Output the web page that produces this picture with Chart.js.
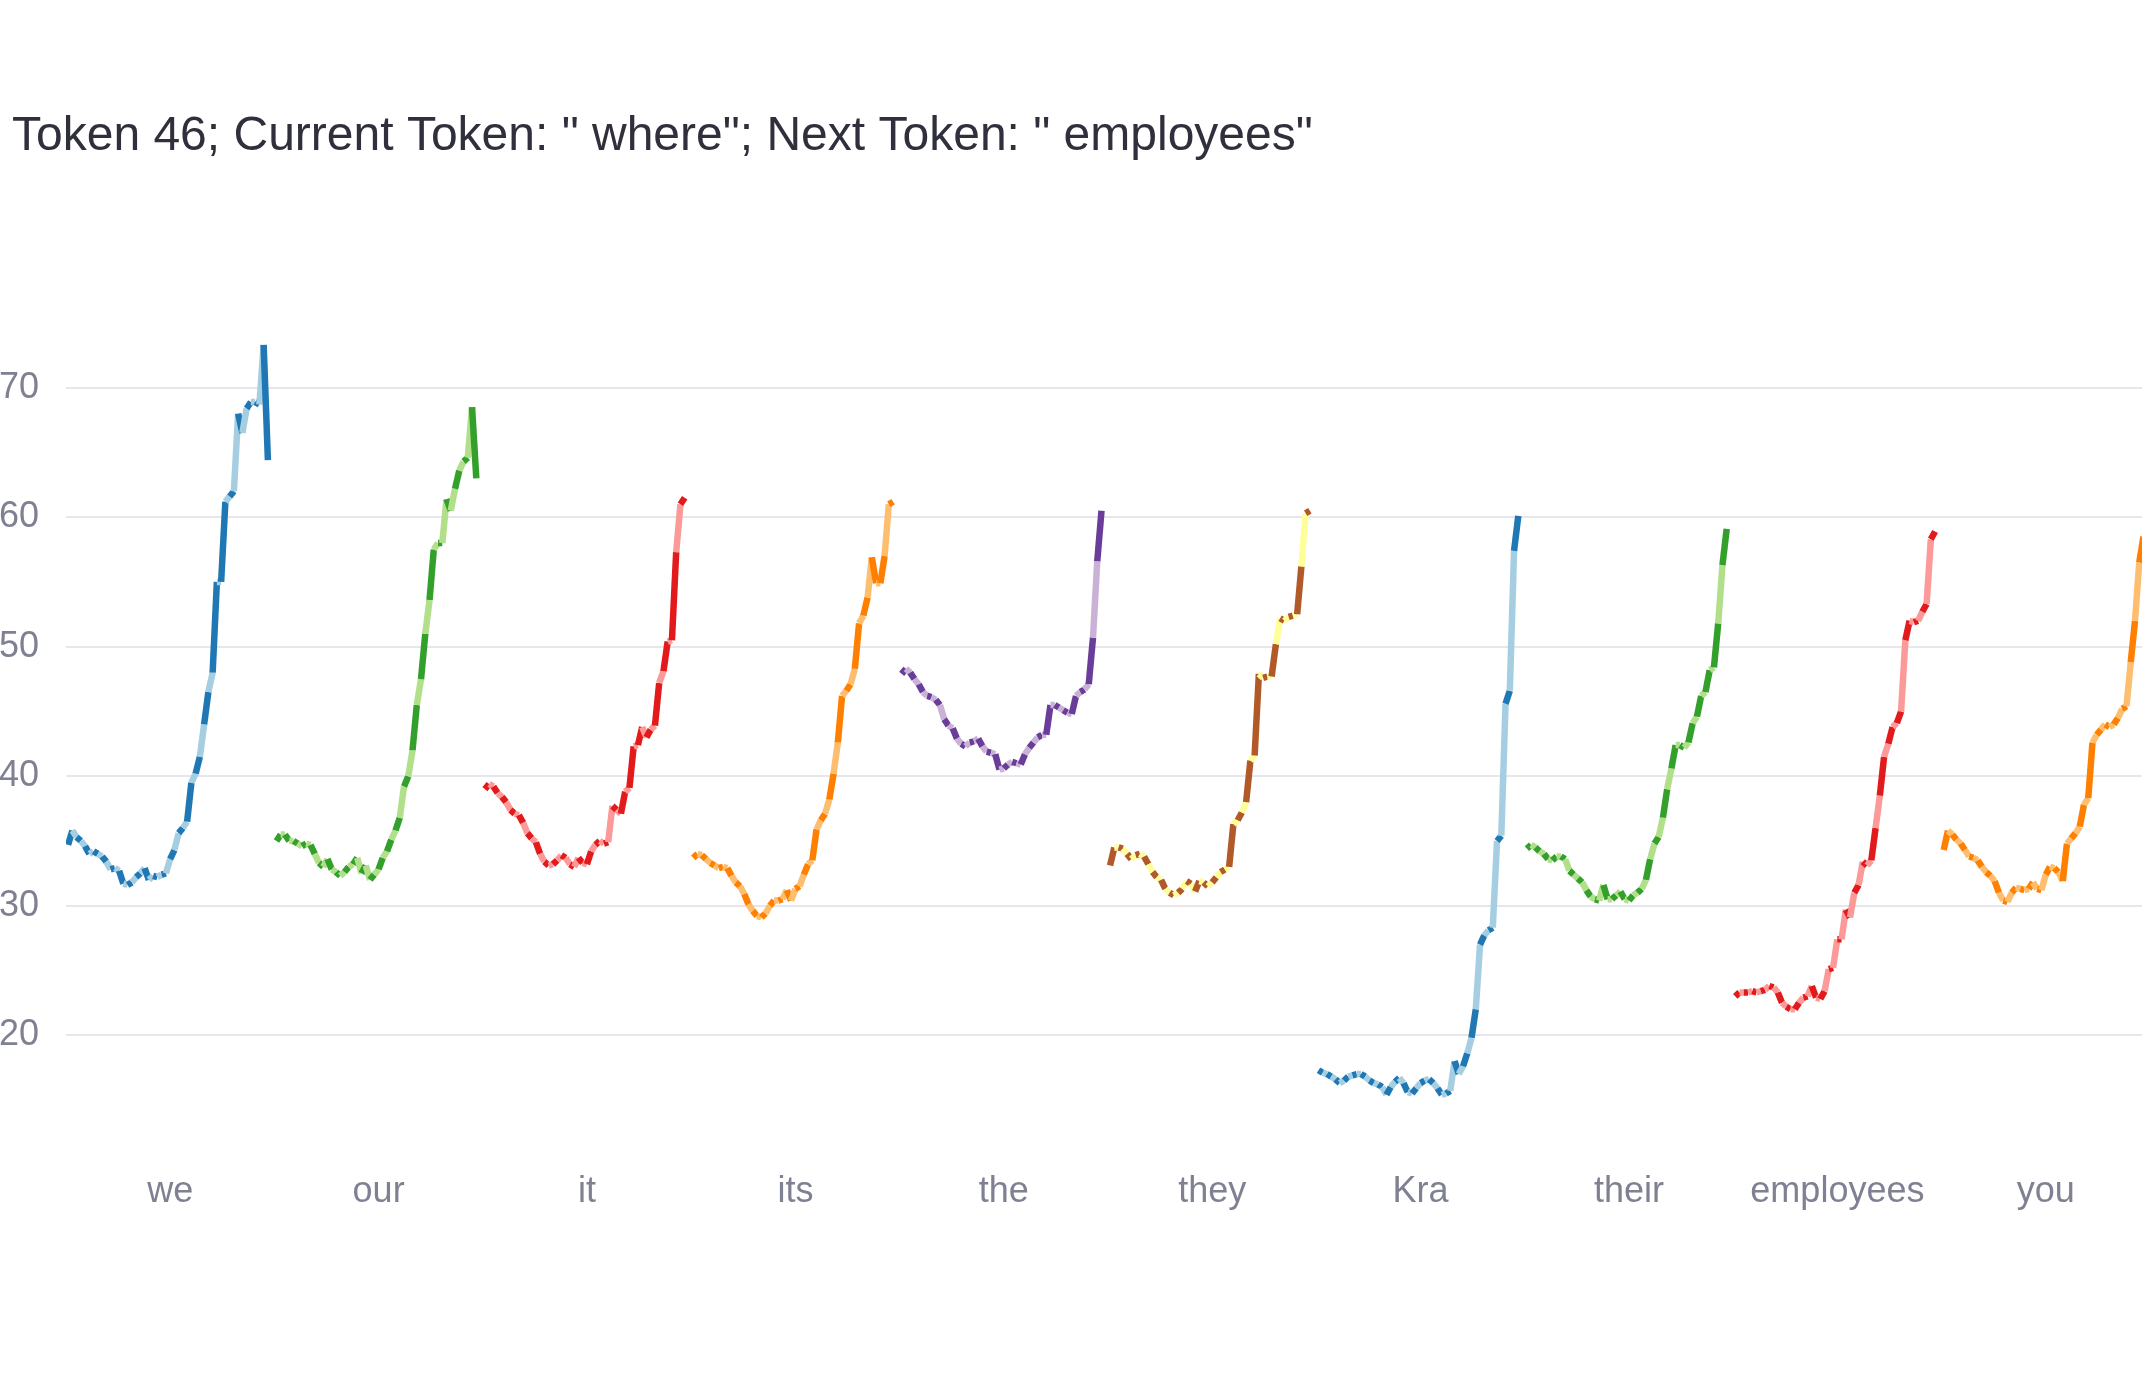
<!DOCTYPE html>
<html>
<head>
<meta charset="utf-8">
<script src="https://cdn.jsdelivr.net/npm/chart.js@4.4.1/dist/chart.umd.min.js"></script>
<style>
  html, body { margin: 0; padding: 0; background: #ffffff; }
  #wrap { width: 2142px; height: 1380px; position: relative; }
</style>
</head>
<body>
<div id="wrap"><canvas id="c"></canvas></div>
<script>
// ---------- data ----------
const titleText = 'Token 46; Current Token: " where"; Next Token: " employees"';
const categories = ['we', 'our', 'it', 'its', 'the', 'they', 'Kra', 'their', 'employees', 'you'];
const yTickValues = [20, 30, 40, 50, 60, 70];

const weValues = [34.7,35.8,35.3,35.0,34.6,34.0,34.2,34.0,33.8,33.4,32.8,32.9,32.7,31.7,31.6,31.8,32.2,32.5,32.9,32.0,32.3,32.2,32.4,32.5,33.6,34.3,35.6,36.0,36.5,39.5,40.2,41.5,44.0,46.5,48.0,55.0,55.0,61.2,61.6,62.0,68.0,66.5,68.4,68.9,68.9,68.7,73.3,64.4];
const ourValues = [35.0,35.5,35.5,35.0,35.0,34.8,34.6,34.8,34.7,34.0,33.3,33.0,33.6,32.8,32.6,32.3,32.6,33.0,33.2,33.7,32.5,33.1,32.0,32.4,32.8,33.7,34.2,35.1,35.8,36.8,39.2,40.0,42.0,45.5,47.5,51.0,53.6,57.5,58.0,58.0,61.4,60.5,62.2,63.6,64.3,64.6,68.5,63.0];
const itValues = [39.0,39.4,39.2,38.7,38.4,38.0,37.4,37.1,37.0,36.4,35.6,35.2,34.9,34.0,33.4,33.1,33.2,33.5,33.9,33.7,33.2,33.0,33.7,33.3,33.2,34.2,34.7,35.0,34.8,34.9,37.7,37.4,37.1,38.8,39.1,42.3,42.4,43.8,43.0,43.6,43.9,47.2,48.1,50.4,50.5,57.3,61.0,61.5];
const itsValues = [33.7,34.0,33.9,33.6,33.3,33.1,32.9,33.0,32.9,32.3,31.8,31.5,30.9,30.1,29.6,29.2,29.1,29.4,30.0,30.4,30.4,30.5,31.2,30.4,31.3,31.5,32.4,33.2,33.5,35.9,36.6,37.1,38.2,40.2,42.6,46.2,46.6,47.1,48.3,51.8,52.4,53.8,56.9,54.9,54.9,57.0,61.0,61.2];
const theValues = [47.9,48.3,48.0,47.5,47.1,46.5,46.2,46.1,45.9,45.5,44.4,43.9,43.7,42.9,42.5,42.3,42.6,42.7,42.9,42.3,41.9,41.8,41.7,40.5,40.6,40.9,41.1,41.0,40.9,41.7,42.2,42.6,43.0,43.2,43.2,45.5,45.5,45.3,45.1,44.9,44.8,46.2,46.5,46.7,47.1,50.7,56.6,60.5];
const theyValues = [33.1,34.5,34.5,34.4,34.0,33.6,33.9,34.0,33.8,33.2,32.6,32.2,32.0,31.3,31.0,30.8,31.0,31.3,31.9,31.7,31.1,31.9,31.8,31.5,31.8,32.2,32.6,32.8,33.0,36.3,36.6,37.2,38.0,41.2,41.6,47.9,47.6,47.7,47.7,50.2,52.2,52.0,52.3,52.4,52.5,56.2,60.3,60.5];
const kraValues = [17.3,17.1,17.0,16.8,16.6,16.3,16.5,16.8,16.9,17.0,17.0,16.8,16.5,16.3,16.2,16.0,15.4,16.0,16.4,16.7,16.3,15.6,15.5,15.9,16.3,16.5,16.6,16.3,15.9,15.4,15.5,15.7,18.0,17.0,17.6,18.6,19.8,22.0,27.0,27.7,28.1,28.3,35.0,35.4,45.6,46.6,57.4,60.1];
const theirValues = [34.4,34.7,34.5,34.2,34.0,33.6,33.5,33.8,33.8,33.6,32.7,32.4,32.1,31.8,31.2,30.7,30.5,30.4,31.6,30.5,30.5,30.8,31.1,30.5,30.4,30.8,31.0,31.3,32.0,33.6,34.8,35.3,36.8,39.0,40.6,42.4,42.4,42.2,42.6,44.1,44.6,46.2,46.5,48.2,48.4,51.8,56.3,59.1];
const employeesValues = [23.0,23.3,23.3,23.3,23.4,23.3,23.4,23.5,23.8,23.7,23.3,22.5,22.2,22.0,22.0,22.5,22.9,23.0,23.8,22.9,22.8,23.4,25.1,25.2,27.4,27.4,29.7,29.1,31.0,31.6,33.4,33.1,33.5,36.0,38.5,41.5,42.5,43.8,44.1,45.0,50.5,52.0,51.9,52.0,52.7,53.3,58.3,58.9];
const youValues = [34.3,35.8,35.5,35.1,34.8,34.3,33.8,33.7,33.5,33.0,32.6,32.3,31.9,31.0,30.4,30.3,31.0,31.4,31.3,31.2,31.3,31.8,31.3,31.2,32.4,33.0,32.9,32.6,31.9,34.8,35.2,35.6,36.1,37.8,38.3,42.6,43.2,43.6,44.0,43.8,44.0,44.5,45.2,45.4,48.8,52.0,56.5,58.5];

const seriesValues = [weValues, ourValues, itValues, itsValues, theValues, theyValues, kraValues, theirValues, employeesValues, youValues];

// ---------- style ----------
const darkColors  = ['#1f78b4','#33a02c','#e31a1c','#ff7f00','#6a3d9a','#b15928','#1f78b4','#33a02c','#e31a1c','#ff7f00'];
const lightColors = ['#a6cee3','#b2df8a','#fb9a99','#fdbf6f','#cab2d6','#ffff99','#a6cee3','#b2df8a','#fb9a99','#fdbf6f'];
const FONT = '"Liberation Sans", Arial, Helvetica, sans-serif';
const LAYER_STEP = 0.0204;   // spacing of consecutive layers within a category band
const BAND_START = -0.49;    // offset of first layer from category centre

const datasets = seriesValues.map((vals, k) => ({
  label: categories[k],
  data: vals.map((v, i) => ({ x: k + BAND_START + i * LAYER_STEP, y: v })),
  borderColor: darkColors[k],
  backgroundColor: darkColors[k],
  borderWidth: 6.5,
  borderCapStyle: 'butt',
  borderJoinStyle: 'miter',
  pointRadius: 0,
  pointHoverRadius: 0,
  tension: 0,
  fill: false,
  segment: {
    borderColor: ctx => (ctx.p0DataIndex % 2 === 0 ? darkColors[k] : lightColors[k])
  }
}));

// shift the title to its left inset (layout padding is kept at 0 so the y labels are not clipped)
const titleInset = {
  id: 'titleInset',
  beforeDraw(chart) { if (chart.titleBlock) chart.titleBlock.left = 12; }
};

new Chart(document.getElementById('c'), {
  type: 'line',
  data: { datasets },
  plugins: [titleInset],
  options: {
    responsive: true,
    maintainAspectRatio: false,
    animation: false,
    events: [],
    layout: { padding: { left: 0, right: 0, top: 0, bottom: 134 } },
    plugins: {
      legend: { display: false },
      tooltip: { enabled: false },
      title: {
        display: true,
        text: titleText,
        align: 'start',
        color: '#2f303b',
        font: { family: FONT, size: 48, weight: 'normal', lineHeight: 1.2 },
        padding: { top: 108.2, bottom: 144.2 }
      }
    },
    scales: {
      x: {
        type: 'linear',
        min: -0.5,
        max: -0.5 + 2076 / 208.4,
        grid: { display: false, drawTicks: false },
        border: { display: false },
        afterBuildTicks: scale => { scale.ticks = categories.map((c, i) => ({ value: i })); },
        ticks: {
          padding: 32,
          color: '#7f8192',
          font: { family: FONT, size: 36 },
          maxRotation: 0,
          autoSkip: false,
          callback: (value, index) => categories[index]
        }
      },
      y: {
        type: 'linear',
        min: 12,
        max: 76,
        grid: { color: '#e5e7ec', lineWidth: 2, drawTicks: false },
        border: { display: false },
        afterBuildTicks: scale => { scale.ticks = yTickValues.map(v => ({ value: v })); },
        afterFit: scale => { scale.width = 66; },
        ticks: {
          padding: 27,
          color: '#7f8192',
          font: { family: FONT, size: 36 },
          callback: v => String(v)
        }
      }
    }
  }
});
</script>
</body>
</html>
